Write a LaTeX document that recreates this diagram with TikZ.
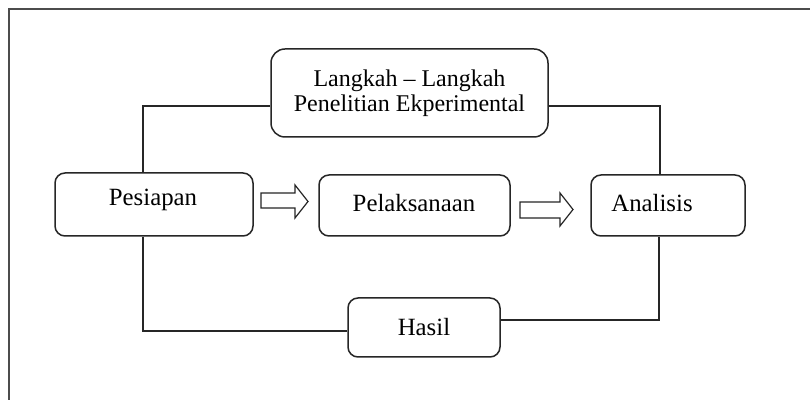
\documentclass[tikz,border=0pt]{standalone}
\usepackage{fontspec}
\setmainfont{Liberation Serif}
\begin{document}
\begin{tikzpicture}[x=0.5pt,y=-0.5pt,
  box/.style={draw=black!85, line width=0.75pt, rounded corners=5pt, inner sep=0pt,
    font=\fontsize{12}{12.4}\selectfont, align=center},
  lbl/.style={font=\fontsize{12.4}{13}\selectfont},
  link/.style={draw=black!85, line width=0.75pt},
  blockarrow/.style={draw=black!85, line width=0.6pt, fill=white}]
\useasboundingbox (0,0) rectangle (810,400);
\fill[white] (0,0) rectangle (810,400);
\draw[black!70, line width=1pt] (9,400) -- (9,9) -- (810,9);

\node[box, rounded corners=7pt, minimum width=138.5pt, minimum height=44pt] (top) at (409.5,93)
  {Langkah -- Langkah\\Penelitian Ekperimental};
\node[box, minimum width=99pt, minimum height=31.5pt] (pes) at (154,204.5) {};
\node[lbl] (pestxt) at (153,200) {Pesiapan};
\node[box, minimum width=95.5pt, minimum height=30.5pt] (pel) at (414.5,205.5) {};
\node[lbl] (peltxt) at (414,203) {Pelaksanaan};
\node[box, minimum width=77pt, minimum height=30.5pt] (ana) at (668,205.5) {};
\node[lbl] (anatxt) at (652,203) {Analisis};
\node[box, minimum width=76pt, minimum height=29.5pt] (has) at (424,327.5) {};
\node[lbl] (hastxt) at (424,327) {Hasil};

\draw[link] ([xshift=-5.5pt]pes.north) |- ([yshift=-6.5pt]top.west);
\draw[link] ([yshift=-6.5pt]top.east) -| ([xshift=-4pt]ana.north);
\draw[link] ([xshift=-5.5pt]pes.south) |- ([yshift=-1.75pt]has.west);
\draw[link] ([yshift=3.75pt]has.east) -| ([xshift=-4.5pt]ana.south);

\draw[blockarrow] (261,193) -- (295,193) -- (295,185) -- (308,201.5) -- (295,218) -- (295,208) -- (261,208) -- cycle;
\draw[blockarrow] (520,202) -- (560,202) -- (560,193) -- (573,209.5) -- (560,226) -- (560,218) -- (520,218) -- cycle;
\end{tikzpicture}
\end{document}
